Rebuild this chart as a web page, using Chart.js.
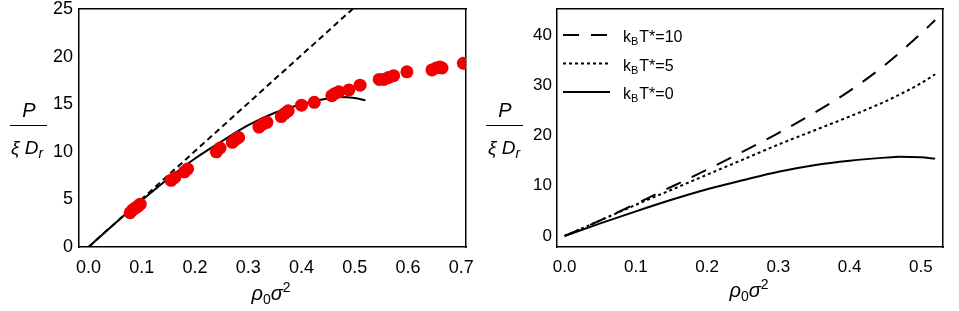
<!DOCTYPE html>
<html>
<head>
<meta charset="utf-8">
<script src="https://cdn.jsdelivr.net/npm/chart.js@4"></script>
<style>
  body { margin: 0; background: #fff; }
  #wrap { position: relative; width: 959px; height: 311px; overflow: hidden;
          font-family: "Liberation Sans", Arial, sans-serif; color: #000; }
  canvas { position: absolute; top: 0; }
  .lbl { position: absolute; white-space: nowrap; font-size: 20px; line-height: 20px;
         transform: translateX(-50%); }
  .lbl i { font-style: italic; }
  .lbl .sb { position: relative; top: 4px; font-size: 14px; }
  .lbl .sp { position: relative; top: -8px; font-size: 14px; }
  .bar { position: absolute; height: 0; border-top: 1.5px solid #000; }
</style>
</head>
<body>
<div id="wrap">
  <canvas id="left" width="480" height="311" style="left:0"></canvas>
  <canvas id="right" width="479" height="311" style="left:480px"></canvas>

  <div class="lbl" style="left:29px;top:100px"><i>P</i></div>
  <div class="bar" style="left:10px;top:125px;width:37px"></div>
  <div class="lbl" style="left:27px;top:138px;font-size:19px"><i>ξ</i> <i>D</i><span class="sb"><i>r</i></span></div>
  <div class="lbl" style="left:271px;top:283px"><i>ρ</i><span class="sb">0</span><i>σ</i><span class="sp">2</span></div>

  <div class="lbl" style="left:505px;top:100px"><i>P</i></div>
  <div class="bar" style="left:486px;top:125px;width:37px"></div>
  <div class="lbl" style="left:504px;top:138px;font-size:19px"><i>ξ</i> <i>D</i><span class="sb"><i>r</i></span></div>
  <div class="lbl" style="left:749px;top:280px"><i>ρ</i><span class="sb">0</span><i>σ</i><span class="sp">2</span></div>
</div>

<script>
// simulation points (left panel)
const simX = [0.078, 0.083, 0.088, 0.093, 0.097, 0.155, 0.162, 0.180, 0.186, 0.240, 0.247,
              0.270, 0.276, 0.282, 0.320, 0.327, 0.335, 0.362, 0.368, 0.375, 0.400, 0.424,
              0.457, 0.462, 0.470, 0.489, 0.510, 0.546, 0.555, 0.563, 0.573, 0.598,
              0.645, 0.653, 0.660, 0.664, 0.704];
const simY = [3.6, 3.9, 4.1, 4.3, 4.5, 7.0, 7.3, 7.9, 8.2, 10.0, 10.4,
              11.0, 11.3, 11.5, 12.6, 12.9, 13.1, 13.7, 14.0, 14.3, 14.9, 15.2,
              15.9, 16.1, 16.3, 16.5, 17.0, 17.6, 17.6, 17.8, 18.0, 18.4,
              18.6, 18.8, 18.9, 18.8, 19.3];

// theory, kBT*=0
const zeroX = [0, 0.05, 0.1, 0.15, 0.2, 0.25, 0.3, 0.35, 0.4, 0.45, 0.47, 0.5, 0.52];
const zeroY = [0, 2.5, 4.9, 7.2, 9.3, 11.1, 12.8, 14.1, 15.0, 15.6, 15.75, 15.65, 15.4];

// low density straight line (left panel)
const lineX = [0, 0.496];
const lineY = [0, 25];

// finite temperature curves (right panel)
const tempX = [0, 0.05, 0.1, 0.15, 0.2, 0.25, 0.3, 0.35, 0.4, 0.45, 0.5, 0.52];
const fiveY = [0, 3.1, 6.2, 9.2, 12.2, 15.2, 18.2, 21.0, 23.8, 26.8, 30.4, 32.2];
const tenY  = [0, 3.1, 6.4, 9.8, 13.2, 16.8, 20.5, 24.5, 28.9, 34.1, 40.3, 43.0];
const temps = ['10', '5', '0'];

const leftXTicks = [0, 0.1, 0.2, 0.3, 0.4, 0.5, 0.6, 0.7];
const leftYTicks = [0, 5, 10, 15, 20, 25];
const rightXTicks = [0, 0.1, 0.2, 0.3, 0.4, 0.5];
const rightYTicks = [0, 10, 20, 30, 40];

const pts = (xs, ys) => xs.map((x, i) => ({ x: x, y: ys[i] }));

function frame(xr, yr, xt, yt, size, ypad, axisW) {
  const font = { family: 'Liberation Sans', size: size };
  const border = { display: true, color: '#000', width: 1.5 };
  const noGrid = { display: false, drawTicks: false };
  return {
    x: {
      type: 'linear', min: xr[0], max: xr[1],
      afterBuildTicks: s => { s.ticks = xt.map(v => ({ value: v })); },
      afterFit: s => { s.height = 64; s.paddingLeft = 0; s.paddingRight = 0; },
      ticks: { font: font, color: '#000', padding: 10, maxRotation: 0, autoSkip: false,
               callback: v => v.toFixed(1) },
      grid: noGrid, border: border
    },
    y: {
      type: 'linear', min: yr[0], max: yr[1],
      afterBuildTicks: s => { s.ticks = yt.map(v => ({ value: v })); },
      afterFit: s => { s.width = axisW; s.paddingTop = 0; s.paddingBottom = 0; },
      ticks: { font: font, color: '#000', padding: ypad, autoSkip: false },
      grid: noGrid, border: border
    },
    x2: {
      type: 'linear', position: 'top', display: true, min: xr[0], max: xr[1],
      afterFit: s => { s.height = 0; s.paddingLeft = 0; s.paddingRight = 0; },
      ticks: { display: false }, grid: noGrid, border: border
    },
    y2: {
      type: 'linear', position: 'right', display: true, min: yr[0], max: yr[1],
      afterFit: s => { s.width = 0; s.paddingTop = 0; s.paddingBottom = 0; },
      ticks: { display: false }, grid: noGrid, border: border
    }
  };
}

new Chart(document.getElementById('left'), {
  type: 'scatter',
  data: {
    datasets: [
      { label: 'simulation', data: pts(simX, simY), backgroundColor: '#f00000',
        borderColor: '#f00000', pointRadius: 6.5, pointBorderWidth: 0, order: 0 },
      { label: 'theory', type: 'line', data: pts(zeroX, zeroY), borderColor: '#000',
        borderWidth: 2, pointRadius: 0, cubicInterpolationMode: 'monotone', fill: false, order: 1 },
      { label: 'linear', type: 'line', data: pts(lineX, lineY), borderColor: '#000',
        borderWidth: 2, borderDash: [6, 4], pointRadius: 0, fill: false, order: 2 }
    ]
  },
  options: {
    responsive: false, animation: false,
    layout: { padding: { top: 9, right: 14, left: 0, bottom: 0 } },
    plugins: { legend: { display: false }, tooltip: { enabled: false } },
    scales: frame([-0.018, 0.709], [0, 25], leftXTicks, leftYTicks, 18, 6, 79)
  }
});

const kLegend = {
  id: 'kLegend',
  afterDraw(chart) {
    const ctx = chart.ctx;
    const top = chart.chartArea.top;
    chart.data.datasets.forEach((ds, i) => {
      const y = top + 26 + i * 28.5;
      ctx.save();
      ctx.strokeStyle = ds.borderColor;
      ctx.lineWidth = ds.borderWidth;
      ctx.setLineDash(ds.borderDash || []);
      ctx.beginPath();
      ctx.moveTo(83, y);
      ctx.lineTo(130, y);
      ctx.stroke();
      ctx.setLineDash([]);
      ctx.fillStyle = '#000';
      ctx.textBaseline = 'alphabetic';
      let x = 143;
      ctx.font = '16px "Liberation Sans"';
      ctx.fillText('k', x, y + 7);
      x += ctx.measureText('k').width;
      ctx.font = '11px "Liberation Sans"';
      ctx.fillText('B', x, y + 10);
      x += ctx.measureText('B').width + 1;
      ctx.font = '16px "Liberation Sans"';
      ctx.fillText('T*=' + temps[i], x, y + 7);
      ctx.restore();
    });
  }
};

new Chart(document.getElementById('right'), {
  type: 'line',
  data: {
    datasets: [
      { label: 'kBT*=10', data: pts(tempX, tenY), borderColor: '#000', borderWidth: 2,
        borderDash: [16, 12], pointRadius: 0, cubicInterpolationMode: 'monotone', fill: false },
      { label: 'kBT*=5', data: pts(tempX, fiveY), borderColor: '#000', borderWidth: 2,
        borderDash: [3, 3], pointRadius: 0, cubicInterpolationMode: 'monotone', fill: false },
      { label: 'kBT*=0', data: pts(zeroX, zeroY), borderColor: '#000', borderWidth: 2,
        pointRadius: 0, cubicInterpolationMode: 'monotone', fill: false }
    ]
  },
  options: {
    responsive: false, animation: false,
    layout: { padding: { top: 9, right: 16, left: 0, bottom: 0 } },
    plugins: { legend: { display: false }, tooltip: { enabled: false } },
    scales: frame([-0.0107, 0.531], [-2.2, 45.2], rightXTicks, rightYTicks, 17, 5, 77)
  },
  plugins: [kLegend]
});
</script>
</body>
</html>
